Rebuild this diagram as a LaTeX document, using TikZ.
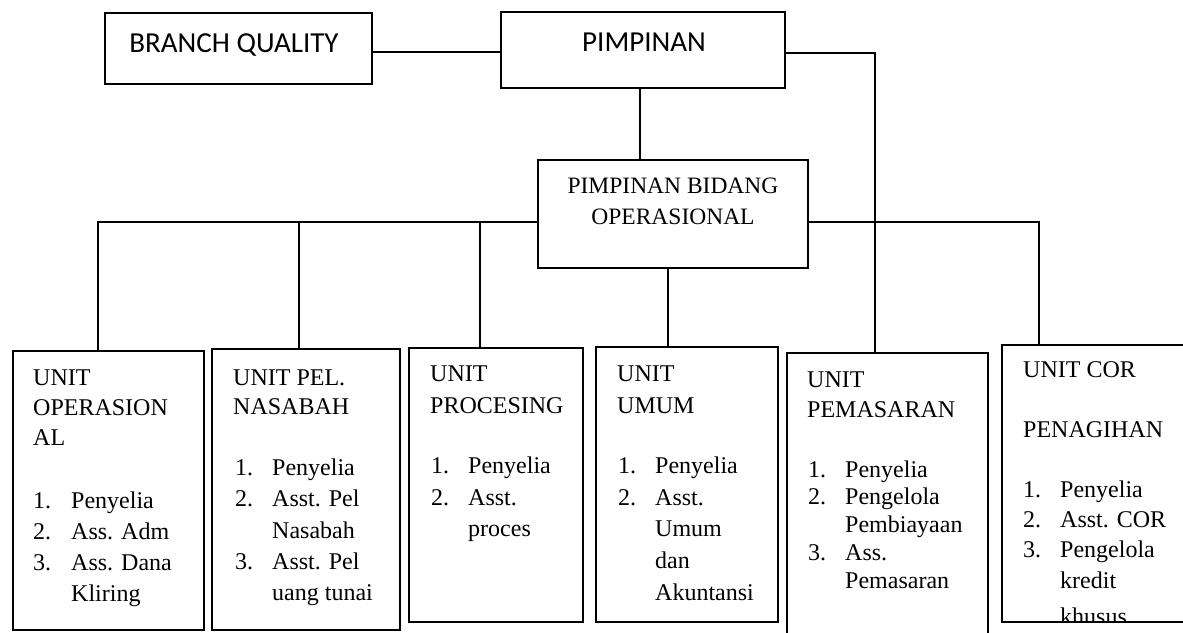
\documentclass[tikz,border=0pt]{standalone}
\usepackage{fontspec}
\setmainfont{Liberation Serif}
\newfontfamily\calfont{Carlito}
\tikzset{
  x=1pt, y=-1pt,
  box/.style={draw, line width=1.7pt, inner sep=0pt},
  conn/.style={line width=1.7pt},
  txt/.style={anchor=base west, inner sep=0pt, font=\fontsize{24}{29}\selectfont},
  toptxt/.style={anchor=base, inner sep=0pt, font=\calfont\fontsize{29}{35}\selectfont},
  midtxt/.style={anchor=base, inner sep=0pt, font=\fontsize{23.5}{29}\selectfont}
}
\newcommand\lnum[6]{\node[txt] (#1n) at (#2,#4) {#5}; \node[txt] (#1t) at (#3,#4) {#6};}
\newcommand\ltxt[4]{\node[txt] (#1) at (#2,#3) {#4};}
\begin{document}
\begin{tikzpicture}
\clip (0,0) rectangle (1183,632);
\fill[white] (0,0) rectangle (1183,632);

% top boxes
\node[box, minimum width=267pt, minimum height=71pt] (bq) at (238.5,48.5) {};
\node[toptxt] (bqt) at (234,52) {BRANCH QUALITY};
\node[box, minimum width=284pt, minimum height=76pt] (pim) at (643,50) {};
\node[toptxt] (pimt) at (644,51) {PIMPINAN};

% middle box
\node[box, minimum width=270pt, minimum height=108pt] (pbo) at (673,214) {};
\node[midtxt] (pbo1) at (673,193) {PIMPINAN BIDANG};
\node[midtxt] (pbo2) at (673,224) {OPERASIONAL};

% unit boxes
\node[box, minimum width=191pt, minimum height=279pt] (u1) at (108.5,490.5) {};
\node[box, minimum width=188pt, minimum height=281pt] (u2) at (306,489.5) {};
\node[box, minimum width=174pt, minimum height=274pt] (u3) at (496,485) {};
\node[box, minimum width=182pt, minimum height=275pt] (u4) at (687,484.5) {};
\node[box, minimum width=201pt, minimum height=287pt] (u5) at (887.5,496.5) {};
\node[box, minimum width=198pt, minimum height=277pt] (u6) at (1101,483.5) {};

% connectors
\coordinate (bqr) at ([yshift=-3.5pt]bq.east);
\draw[conn] (bqr) -- (bqr -| pim.west);
\coordinate (pimr) at ([yshift=-3pt]pim.east);
\coordinate (d1) at ([xshift=86pt]u1.north west);
\coordinate (d2) at ([xshift=88pt]u2.north west);
\coordinate (d3) at ([xshift=72pt]u3.north west);
\coordinate (d4) at ([xshift=-5pt]pbo.south);
\coordinate (d5) at ([xshift=89pt]u5.north west);
\coordinate (d6) at ([xshift=38pt]u6.north west);
\draw[conn] (pimr) -| (d5);
\draw[conn] ([xshift=-3pt]pim.south) -- ([xshift=-3pt]pim.south |- pbo.north);
\coordinate (pl) at ([yshift=-8pt]pbo.west);
\coordinate (pr) at ([yshift=-8pt]pbo.east);
\draw[conn] (pl) -| (d1);
\draw[conn] (d2 |- pl) -- (d2);
\draw[conn] (d3 |- pl) -- (d3);
\draw[conn] (pr) -| (d6);
\draw[conn] (d4) -- (d4 |- u4.north);

% box 1
\ltxt{a1}{33}{385}{UNIT}
\ltxt{a2}{33}{415}{OPERASION}
\ltxt{a3}{33}{445}{AL}
\lnum{a4}{33}{71}{508}{1.}{Penyelia}
\lnum{a5}{33}{71}{539}{2.}{Ass. Adm}
\lnum{a6}{33}{71}{570}{3.}{Ass. Dana}
\ltxt{a7}{71}{601}{Kliring}

% box 2
\ltxt{b1}{233}{385}{UNIT PEL.}
\ltxt{b2}{233}{414}{NASABAH}
\lnum{b3}{235}{272}{475}{1.}{Penyelia}
\lnum{b4}{235}{272}{506}{2.}{Asst. Pel}
\ltxt{b5}{272}{538}{Nasabah}
\lnum{b6}{235}{272}{569}{3.}{Asst. Pel}
\ltxt{b7}{272}{600}{uang tunai}

% box 3
\ltxt{c1}{430}{381}{UNIT}
\ltxt{c2}{430}{413}{PROCESING}
\lnum{c3}{431}{468}{473}{1.}{Penyelia}
\lnum{c4}{431}{468}{505}{2.}{Asst.}
\ltxt{c5}{468}{536}{proces}

% box 4
\ltxt{e1}{617}{381}{UNIT}
\ltxt{e2}{617}{413}{UMUM}
\lnum{e3}{618}{655}{473}{1.}{Penyelia}
\lnum{e4}{618}{655}{505}{2.}{Asst.}
\ltxt{e5}{655}{536}{Umum}
\ltxt{e6}{655}{568}{dan}
\ltxt{e7}{655}{600}{Akuntansi}

% box 5
\ltxt{f1}{807}{387}{UNIT}
\ltxt{f2}{807}{417}{PEMASARAN}
\lnum{f3}{808}{845}{477}{1.}{Penyelia}
\lnum{f4}{808}{845}{504}{2.}{Pengelola}
\ltxt{f5}{845}{532}{Pembiayaan}
\lnum{f6}{808}{845}{560}{3.}{Ass.}
\ltxt{f7}{845}{588}{Pemasaran}

% box 6
\ltxt{g1}{1023}{377}{UNIT COR}
\ltxt{g2}{1023}{437}{PENAGIHAN}
\lnum{g3}{1023}{1060}{497}{1.}{Penyelia}
\lnum{g4}{1023}{1060}{527}{2.}{Asst. COR}
\lnum{g5}{1023}{1060}{557}{3.}{Pengelola}
\ltxt{g6}{1060}{588}{kredit}
\begin{scope}
\clip (1002,345) rectangle (1183,621);
\ltxt{g7}{1060}{624}{khusus}
\end{scope}
\end{tikzpicture}
\end{document}
